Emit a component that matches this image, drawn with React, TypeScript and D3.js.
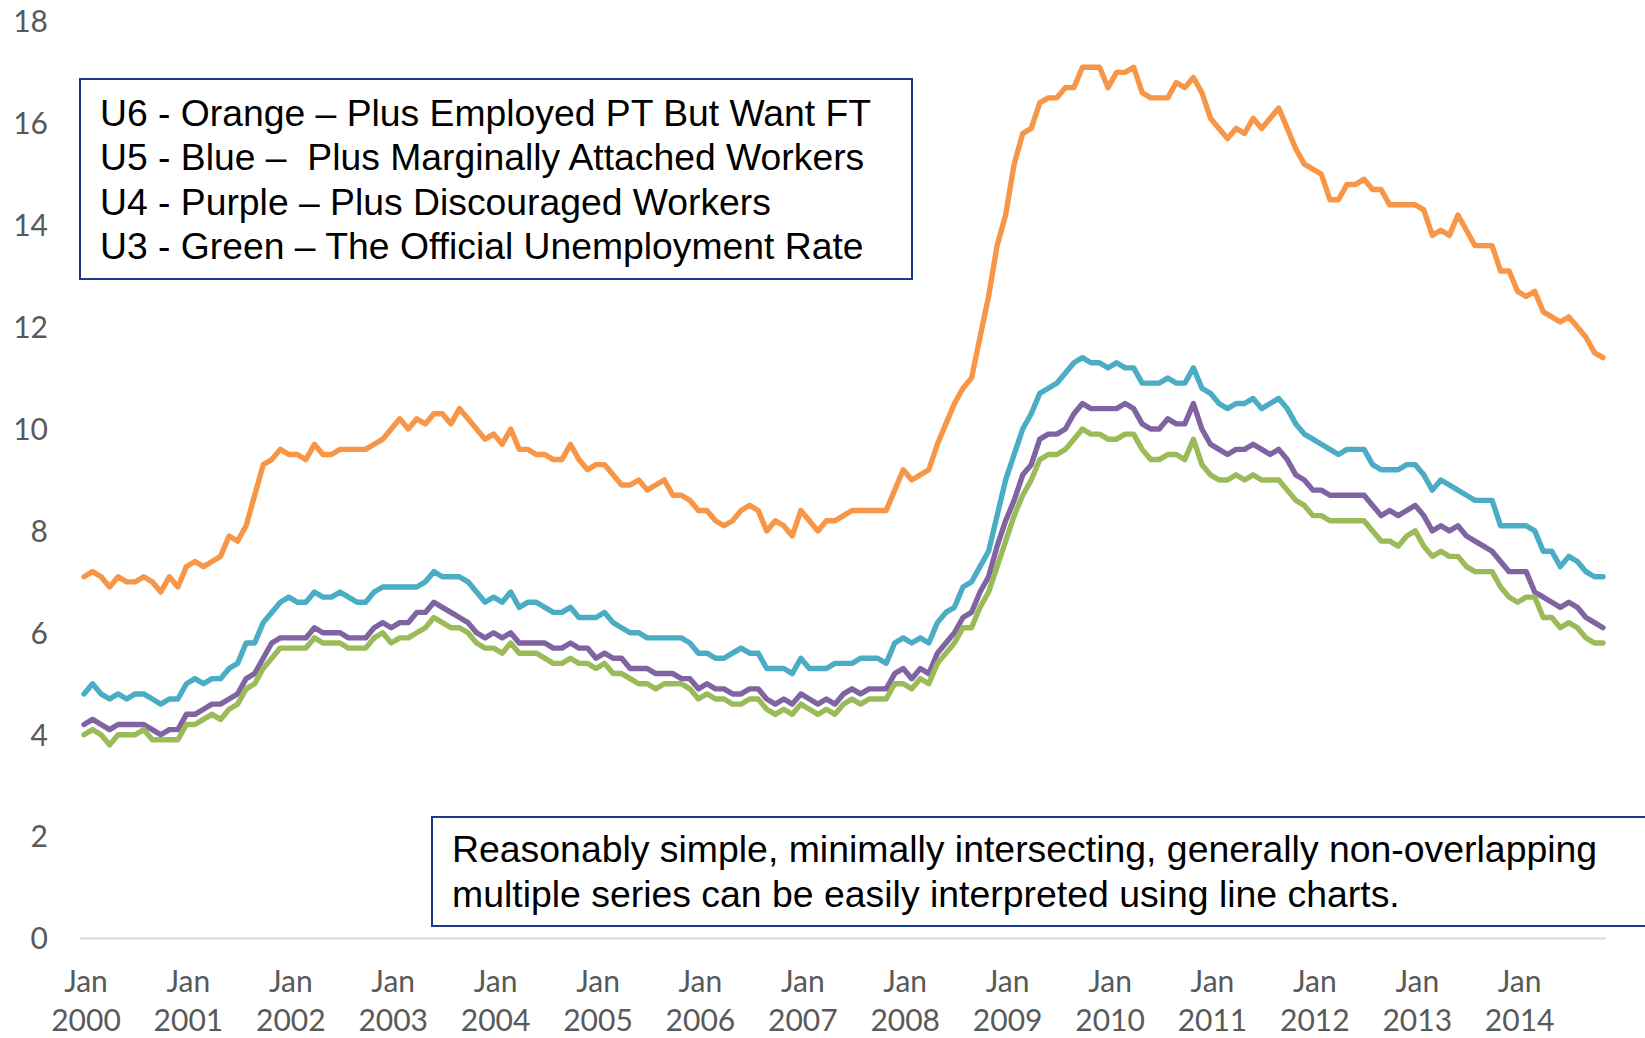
import React from "react";
import * as d3 from "d3";

// Monthly data, Jan 2000 – Nov 2014 (percent)
const u6Orange: number[] = [
  7.1, 7.2, 7.1, 6.9, 7.1, 7.0, 7.0, 7.1, 7.0, 6.8, 7.1, 6.9,
  7.3, 7.4, 7.3, 7.4, 7.5, 7.9, 7.8, 8.1, 8.7, 9.3, 9.4, 9.6,
  9.5, 9.5, 9.4, 9.7, 9.5, 9.5, 9.6, 9.6, 9.6, 9.6, 9.7, 9.8,
  10.0, 10.2, 10.0, 10.2, 10.1, 10.3, 10.3, 10.1, 10.4, 10.2, 10.0, 9.8,
  9.9, 9.7, 10.0, 9.6, 9.6, 9.5, 9.5, 9.4, 9.4, 9.7, 9.4, 9.2,
  9.3, 9.3, 9.1, 8.9, 8.9, 9.0, 8.8, 8.9, 9.0, 8.7, 8.7, 8.6,
  8.4, 8.4, 8.2, 8.1, 8.2, 8.4, 8.5, 8.4, 8.0, 8.2, 8.1, 7.9,
  8.4, 8.2, 8.0, 8.2, 8.2, 8.3, 8.4, 8.4, 8.4, 8.4, 8.4, 8.8,
  9.2, 9.0, 9.1, 9.2, 9.7, 10.1, 10.5, 10.8, 11.0, 11.8, 12.6, 13.6,
  14.2, 15.2, 15.8, 15.9, 16.4, 16.5, 16.5, 16.7, 16.7, 17.1, 17.1, 17.1,
  16.7, 17.0, 17.0, 17.1, 16.6, 16.5, 16.5, 16.5, 16.8, 16.7, 16.9, 16.6,
  16.1, 15.9, 15.7, 15.9, 15.8, 16.1, 15.9, 16.1, 16.3, 15.9, 15.5, 15.2,
  15.1, 15.0, 14.5, 14.5, 14.8, 14.8, 14.9, 14.7, 14.7, 14.4, 14.4, 14.4,
  14.4, 14.3, 13.8, 13.9, 13.8, 14.2, 13.9, 13.6, 13.6, 13.6, 13.1, 13.1,
  12.7, 12.6, 12.7, 12.3, 12.2, 12.1, 12.2, 12.0, 11.8, 11.5, 11.4,
];

const u5Blue: number[] = [
  4.8, 5.0, 4.8, 4.7, 4.8, 4.7, 4.8, 4.8, 4.7, 4.6, 4.7, 4.7,
  5.0, 5.1, 5.0, 5.1, 5.1, 5.3, 5.4, 5.8, 5.8, 6.2, 6.4, 6.6,
  6.7, 6.6, 6.6, 6.8, 6.7, 6.7, 6.8, 6.7, 6.6, 6.6, 6.8, 6.9,
  6.9, 6.9, 6.9, 6.9, 7.0, 7.2, 7.1, 7.1, 7.1, 7.0, 6.8, 6.6,
  6.7, 6.6, 6.8, 6.5, 6.6, 6.6, 6.5, 6.4, 6.4, 6.5, 6.3, 6.3,
  6.3, 6.4, 6.2, 6.1, 6.0, 6.0, 5.9, 5.9, 5.9, 5.9, 5.9, 5.8,
  5.6, 5.6, 5.5, 5.5, 5.6, 5.7, 5.6, 5.6, 5.3, 5.3, 5.3, 5.2,
  5.5, 5.3, 5.3, 5.3, 5.4, 5.4, 5.4, 5.5, 5.5, 5.5, 5.4, 5.8,
  5.9, 5.8, 5.9, 5.8, 6.2, 6.4, 6.5, 6.9, 7.0, 7.3, 7.6, 8.3,
  9.0, 9.5, 10.0, 10.3, 10.7, 10.8, 10.9, 11.1, 11.3, 11.4, 11.3, 11.3,
  11.2, 11.3, 11.2, 11.2, 10.9, 10.9, 10.9, 11.0, 10.9, 10.9, 11.2, 10.8,
  10.7, 10.5, 10.4, 10.5, 10.5, 10.6, 10.4, 10.5, 10.6, 10.4, 10.1, 9.9,
  9.8, 9.7, 9.6, 9.5, 9.6, 9.6, 9.6, 9.3, 9.2, 9.2, 9.2, 9.3,
  9.3, 9.1, 8.8, 9.0, 8.9, 8.8, 8.7, 8.6, 8.6, 8.6, 8.1, 8.1,
  8.1, 8.1, 8.0, 7.6, 7.6, 7.3, 7.5, 7.4, 7.2, 7.1, 7.1,
];

const u4Purple: number[] = [
  4.2, 4.3, 4.2, 4.1, 4.2, 4.2, 4.2, 4.2, 4.1, 4.0, 4.1, 4.1,
  4.4, 4.4, 4.5, 4.6, 4.6, 4.7, 4.8, 5.1, 5.2, 5.5, 5.8, 5.9,
  5.9, 5.9, 5.9, 6.1, 6.0, 6.0, 6.0, 5.9, 5.9, 5.9, 6.1, 6.2,
  6.1, 6.2, 6.2, 6.4, 6.4, 6.6, 6.5, 6.4, 6.3, 6.2, 6.0, 5.9,
  6.0, 5.9, 6.0, 5.8, 5.8, 5.8, 5.8, 5.7, 5.7, 5.8, 5.7, 5.7,
  5.5, 5.6, 5.5, 5.5, 5.3, 5.3, 5.3, 5.2, 5.2, 5.2, 5.1, 5.1,
  4.9, 5.0, 4.9, 4.9, 4.8, 4.8, 4.9, 4.9, 4.7, 4.6, 4.7, 4.6,
  4.8, 4.7, 4.6, 4.7, 4.6, 4.8, 4.9, 4.8, 4.9, 4.9, 4.9, 5.2,
  5.3, 5.1, 5.3, 5.2, 5.6, 5.8, 6.0, 6.3, 6.4, 6.8, 7.1, 7.7,
  8.2, 8.6, 9.1, 9.3, 9.8, 9.9, 9.9, 10.0, 10.3, 10.5, 10.4, 10.4,
  10.4, 10.4, 10.5, 10.4, 10.1, 10.0, 10.0, 10.2, 10.1, 10.1, 10.5, 10.0,
  9.7, 9.6, 9.5, 9.6, 9.6, 9.7, 9.6, 9.5, 9.6, 9.4, 9.1, 9.0,
  8.8, 8.8, 8.7, 8.7, 8.7, 8.7, 8.7, 8.5, 8.3, 8.4, 8.3, 8.4,
  8.5, 8.3, 8.0, 8.1, 8.0, 8.1, 7.9, 7.8, 7.7, 7.6, 7.4, 7.2,
  7.2, 7.2, 6.8, 6.7, 6.6, 6.5, 6.6, 6.5, 6.3, 6.2, 6.1,
];

const u3Green: number[] = [
  4.0, 4.1, 4.0, 3.8, 4.0, 4.0, 4.0, 4.1, 3.9, 3.9, 3.9, 3.9,
  4.2, 4.2, 4.3, 4.4, 4.3, 4.5, 4.6, 4.9, 5.0, 5.3, 5.5, 5.7,
  5.7, 5.7, 5.7, 5.9, 5.8, 5.8, 5.8, 5.7, 5.7, 5.7, 5.9, 6.0,
  5.8, 5.9, 5.9, 6.0, 6.1, 6.3, 6.2, 6.1, 6.1, 6.0, 5.8, 5.7,
  5.7, 5.6, 5.8, 5.6, 5.6, 5.6, 5.5, 5.4, 5.4, 5.5, 5.4, 5.4,
  5.3, 5.4, 5.2, 5.2, 5.1, 5.0, 5.0, 4.9, 5.0, 5.0, 5.0, 4.9,
  4.7, 4.8, 4.7, 4.7, 4.6, 4.6, 4.7, 4.7, 4.5, 4.4, 4.5, 4.4,
  4.6, 4.5, 4.4, 4.5, 4.4, 4.6, 4.7, 4.6, 4.7, 4.7, 4.7, 5.0,
  5.0, 4.9, 5.1, 5.0, 5.4, 5.6, 5.8, 6.1, 6.1, 6.5, 6.8, 7.3,
  7.8, 8.3, 8.7, 9.0, 9.4, 9.5, 9.5, 9.6, 9.8, 10.0, 9.9, 9.9,
  9.8, 9.8, 9.9, 9.9, 9.6, 9.4, 9.4, 9.5, 9.5, 9.4, 9.8, 9.3,
  9.1, 9.0, 9.0, 9.1, 9.0, 9.1, 9.0, 9.0, 9.0, 8.8, 8.6, 8.5,
  8.3, 8.3, 8.2, 8.2, 8.2, 8.2, 8.2, 8.0, 7.8, 7.8, 7.7, 7.9,
  8.0, 7.7, 7.5, 7.6, 7.5, 7.5, 7.3, 7.2, 7.2, 7.2, 6.9, 6.7,
  6.6, 6.7, 6.7, 6.3, 6.3, 6.1, 6.2, 6.1, 5.9, 5.8, 5.8,
];

const yTicks: number[] = [0, 2, 4, 6, 8, 10, 12, 14, 16, 18];
const xTickYears: string[] = [
  "2000", "2001", "2002", "2003", "2004", "2005", "2006", "2007",
  "2008", "2009", "2010", "2011", "2012", "2013", "2014",
];
const legendLines: string[] = [
  "U6 - Orange \u2013 Plus Employed PT But Want FT",
  "U5 - Blue \u2013  Plus Marginally Attached Workers",
  "U4 - Purple \u2013 Plus Discouraged Workers",
  "U3 - Green \u2013 The Official Unemployment Rate",
];
const noteLines: string[] = [
  "Reasonably simple, minimally intersecting, generally non-overlapping",
  "multiple series can be easily interpreted using line charts.",
];

const seriesList = [
  { name: "U6", values: u6Orange, color: "#F79646" },
  { name: "U5", values: u5Blue, color: "#4BACC6" },
  { name: "U4", values: u4Purple, color: "#8064A2" },
  { name: "U3", values: u3Green, color: "#9BBB59" },
];

export default function App() {
  const W = 1645;
  const H = 1038;
  const n = u6Orange.length;
  const x = d3.scaleLinear().domain([0, n - 1]).range([84, 1603]);
  const y = d3.scaleLinear().domain([0, 18]).range([938.5, 21.4]);
  const line = d3
    .line<number>()
    .x((_, i) => x(i))
    .y((d) => y(d));

  const tickFont = "Lato, 'Open Sans', sans-serif";
  const textFont = "'Liberation Sans', Arial, sans-serif";
  const boxColor = "#1c3a8c";

  return (
    <svg
      width={W}
      height={H}
      viewBox={`0 0 ${W} ${H}`}
      style={{ position: "absolute", left: 0, top: 0, display: "block", background: "#fff" }}
    >
      <rect x={0} y={0} width={W} height={H} fill="#fff" />
      {/* axis line */}
      <line x1={80} x2={1606} y1={y(0)} y2={y(0)} stroke="#d9d9d9" strokeWidth={2} />
      {/* y tick labels */}
      {yTicks.map((t) => (
        <text
          key={t}
          x={48}
          y={y(t)}
          dy="0.36em"
          textAnchor="end"
          fontFamily={tickFont}
          fontSize={30}
          fill="#595959"
        >
          {t}
        </text>
      ))}
      {/* x tick labels */}
      {xTickYears.map((yr, k) => (
        <g key={yr}>
          <text
            x={x(k * 12) + 2}
            y={992}
            textAnchor="middle"
            fontFamily={tickFont}
            fontSize={30}
            fill="#595959"
          >
            Jan
          </text>
          <text
            x={x(k * 12) + 2}
            y={1031}
            textAnchor="middle"
            fontFamily={tickFont}
            fontSize={30}
            fill="#595959"
          >
            {yr}
          </text>
        </g>
      ))}
      {/* series lines */}
      {seriesList.map((s) => (
        <path
          key={s.name}
          d={line(s.values) || ""}
          fill="none"
          stroke={s.color}
          strokeWidth={5.4}
          strokeLinejoin="round"
          strokeLinecap="round"
        />
      ))}
      {/* legend box */}
      <rect x={80} y={79} width={832} height={200} fill="#fff" stroke={boxColor} strokeWidth={2} />
      {legendLines.map((t, i) => (
        <text
          key={i}
          x={100}
          y={126 + i * 44.4}
          fontFamily={textFont}
          fontSize={37.3}
          fill="#000"
          style={{ whiteSpace: "pre" }}
        >
          {t}
        </text>
      ))}
      {/* note box */}
      <rect x={432} y={817} width={1240} height={109} fill="#fff" stroke={boxColor} strokeWidth={2} />
      {noteLines.map((t, i) => (
        <text
          key={i}
          x={452}
          y={862 + i * 45}
          fontFamily={textFont}
          fontSize={37.4}
          fill="#000"
        >
          {t}
        </text>
      ))}
    </svg>
  );
}
